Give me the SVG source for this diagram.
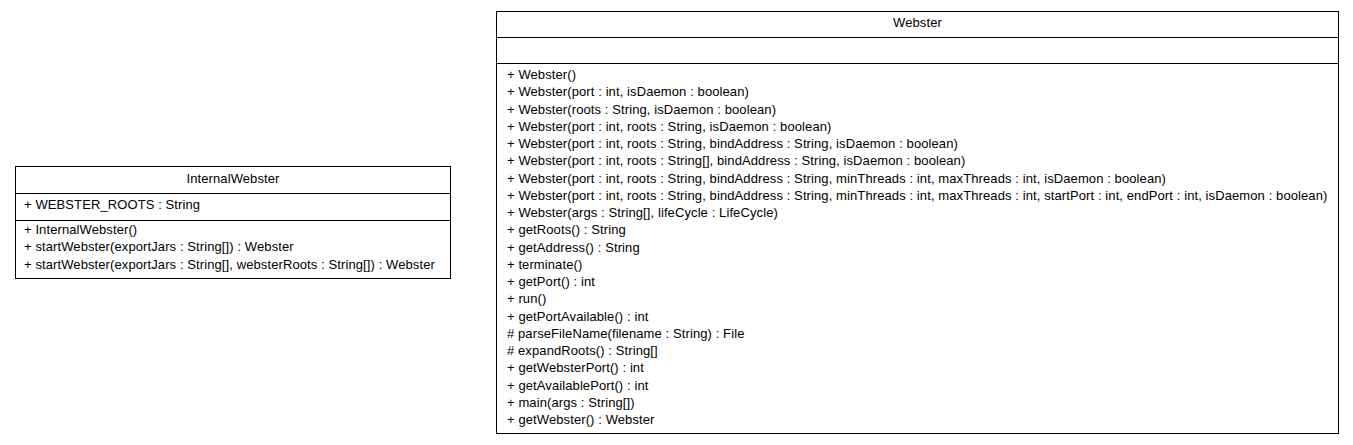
<svg xmlns="http://www.w3.org/2000/svg" width="1353" height="445" viewBox="0 0 1353 445">
<style>
rect.box{fill:#fff;stroke:#000;stroke-width:1}
line.sep{stroke:#000;stroke-width:1}
text{font-family:"Liberation Sans",Arial,sans-serif;font-size:13px;letter-spacing:0.1px;fill:#000}
text.title{text-anchor:middle}
</style>
<rect width="1353" height="445" fill="#fff"/>
<g id="InternalWebster">
<rect class="box" x="15.5" y="166.5" width="435" height="112"/>
<line class="sep" x1="15.5" y1="193.5" x2="450.5" y2="193.5"/>
<line class="sep" x1="15.5" y1="220.5" x2="450.5" y2="220.5"/>
<text class="title" x="233" y="183">InternalWebster</text>
<text x="24" y="208.5">+ WEBSTER_ROOTS : String</text>
<text x="24" y="234">+ InternalWebster()</text>
<text x="24" y="251.3">+ startWebster(exportJars : String[]) : Webster</text>
<text x="24" y="268.5">+ startWebster(exportJars : String[], websterRoots : String[]) : Webster</text>
</g>
<g id="Webster">
<rect class="box" x="496.5" y="11.5" width="842" height="422"/>
<line class="sep" x1="496.5" y1="37.5" x2="1338.5" y2="37.5"/>
<line class="sep" x1="496.5" y1="63.5" x2="1338.5" y2="63.5"/>
<text class="title" x="917.5" y="27">Webster</text>
<text x="507" y="79">+ Webster()</text>
<text x="507" y="96.25">+ Webster(port : int, isDaemon : boolean)</text>
<text x="507" y="113.5">+ Webster(roots : String, isDaemon : boolean)</text>
<text x="507" y="130.75">+ Webster(port : int, roots : String, isDaemon : boolean)</text>
<text x="507" y="148">+ Webster(port : int, roots : String, bindAddress : String, isDaemon : boolean)</text>
<text x="507" y="165.25">+ Webster(port : int, roots : String[], bindAddress : String, isDaemon : boolean)</text>
<text x="507" y="182.5">+ Webster(port : int, roots : String, bindAddress : String, minThreads : int, maxThreads : int, isDaemon : boolean)</text>
<text x="507" y="199.75">+ Webster(port : int, roots : String, bindAddress : String, minThreads : int, maxThreads : int, startPort : int, endPort : int, isDaemon : boolean)</text>
<text x="507" y="217">+ Webster(args : String[], lifeCycle : LifeCycle)</text>
<text x="507" y="234.25">+ getRoots() : String</text>
<text x="507" y="251.5">+ getAddress() : String</text>
<text x="507" y="268.75">+ terminate()</text>
<text x="507" y="286">+ getPort() : int</text>
<text x="507" y="303.25">+ run()</text>
<text x="507" y="320.5">+ getPortAvailable() : int</text>
<text x="507" y="337.75"># parseFileName(filename : String) : File</text>
<text x="507" y="355"># expandRoots() : String[]</text>
<text x="507" y="372.25">+ getWebsterPort() : int</text>
<text x="507" y="389.5">+ getAvailablePort() : int</text>
<text x="507" y="406.75">+ main(args : String[])</text>
<text x="507" y="424">+ getWebster() : Webster</text>
</g>
<g id="connectors"/>
</svg>
